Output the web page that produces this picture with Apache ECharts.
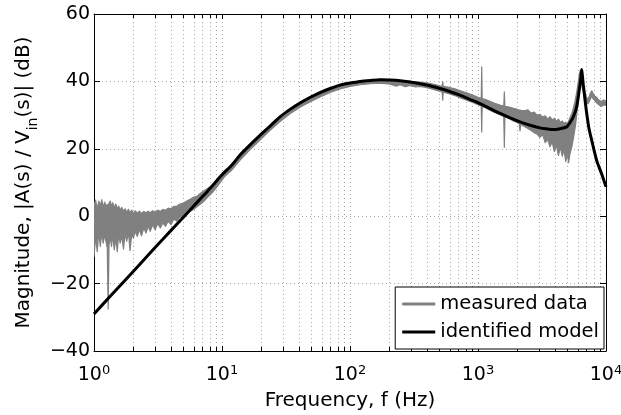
<!DOCTYPE html>
<html><head><meta charset="utf-8">
<script src="https://cdn.jsdelivr.net/npm/echarts@6/dist/echarts.min.js"></script>
<style>html,body{margin:0;padding:0;background:#fff}#c{width:621px;height:415px}</style>
</head><body><div id="c"></div>
<script>
// ---- axis ticks / labels ----
const xTickValues = [1, 10, 100, 1000, 10000];
const xTickExponents = ['0', '1', '2', '3', '4'];
const yTickValues = [-40, -20, 0, 20, 40, 60];
const yTickLabels = ['\u221240', '\u221220', '0', '20', '40', '60'];
const minorMultipliers = [2, 3, 4, 5, 6, 7, 8, 9];

// ---- identified model (Hz, dB) ----
const modelFreq = [1, 1.3, 1.7, 2.2, 3, 4, 5, 6.5, 8, 10,
  12, 13.8, 16.5, 19.8, 24, 28.4, 34, 40.7, 49, 58.3,
  70, 83.5, 100, 120, 145, 172, 205, 246, 295, 352,
  420, 505, 600, 723, 860, 1037, 1230, 1486, 1780, 2129,
  2550, 3050, 3450, 3855, 4300, 4932, 5236, 5556, 5904, 6184,
  6380, 6457, 6549, 6649, 6855, 7067, 7362, 7734, 8459, 9256,
  10000];
const modelDb = [-29, -24.3, -19.5, -14.9, -9.3, -4.2, -0.3, 4.4, 8.1, 12.3,
  15.3, 18.1, 21.1, 24.0, 26.9, 29.5, 31.7, 33.6, 35.3, 36.7,
  37.9, 38.9, 39.5, 40.0, 40.3, 40.5, 40.4, 40.2, 39.8, 39.3,
  38.7, 37.9, 37.0, 35.9, 34.7, 33.4, 32.0, 30.5, 29.2, 28.0,
  27.0, 26.2, 25.9, 25.7, 25.9, 26.5, 27.8, 29.5, 32.5, 37.5,
  41.5, 43.5, 41.5, 39.0, 34.5, 30.5, 26.0, 22.5, 16.5, 12.5,
  8.7];

// ---- measured data: upper / lower envelope of the noisy trace (Hz, dB) ----
const measFreq = [
  1.00,1.03,1.06,1.09,1.12,1.15,1.18,1.21,1.24,1.27,1.29,1.31,1.34,1.37,1.40,1.44,1.48,1.52,1.56,1.60,1.65,1.70,1.75,1.80,1.86,1.91,1.97,
  2.03,2.10,2.18,2.26,2.35,2.45,2.55,2.65,2.75,2.87,3.00,3.15,3.30,3.45,3.62,3.80,4.00,4.20,4.45,4.70,5.00,5.30,5.65,6.00,6.40,6.80,7.30,7.80,8.40,9.00,9.70,10.4,
  12,13.8,16.5,19.8,24,28.4,34,40.7,49,58.3,70,83.5,100,120,145,172,205,230,246,270,295,320,352,390,420,470,505,
  525,530,535,600,660,720,815,900,1000,1060,1069,1078,1150,1250,1350,1486,1590,1606,1622,1750,1900,2000,2100,2129,2160,
  2300,2450,2600,2750,2900,3050,3200,3350,3500,3650,3800,3950,4100,4250,4400,4550,4700,4850,5000,5100,
  5236,5400,5556,5750,5904,6050,6184,6300,6400,6550,6700,6855,7000,7200,7362,7550,7734,7950,8200,8459,8700,9000,9256,9600,10000];
const measHigh = [
  3.5,4.8,2.0,4.5,3.0,4.9,2.5,4.2,3.0,3.5,3.0,3.8,4.5,2.8,4.0,2.5,3.6,2.2,3.0,1.8,2.6,1.5,2.2,1.2,2.0,1.0,1.8,
  0.8,1.6,0.9,1.5,0.8,1.4,1.0,1.5,1.0,1.6,1.2,1.8,1.4,2.0,1.8,2.4,2.2,2.9,3.0,3.6,3.9,4.5,5.0,5.6,6.0,6.8,7.6,8.4,9.2,10.4,11.6,12.9,
  15.5,18.3,21.3,24.2,27.1,29.7,31.9,33.8,35.5,36.9,38.0,39.0,39.6,40.1,40.4,40.6,40.5,40.3,40.3,40.1,40.0,39.9,39.8,39.6,39.4,39.0,38.7,
  38.6,39.9,38.5,38.2,37.8,37.3,36.6,36.0,35.3,35.0,44.3,34.9,34.6,34.0,33.5,33.0,32.7,36.9,32.6,32.4,32.0,31.8,31.5,31.5,31.4,
  31.3,31.6,30.6,30.9,30.0,30.2,29.4,29.8,28.8,29.5,28.6,29.0,28.2,28.8,27.8,28.3,27.6,27.9,27.3,28.2,
  29.3,30.5,32.0,34.4,36.8,39.5,42.0,43.3,42.8,39.5,38.0,36.8,35.6,34.6,35.4,36.5,37.2,36.4,35.6,35.3,34.6,34.2,34.1,34.5,34.2];
const measLow = [
  -12.0,-6.0,-10.5,-4.5,-9.0,-5.0,-8.0,-5.5,-7.5,-9.5,-27.5,-8.5,-6.0,-9.0,-5.5,-10.0,-6.5,-10.5,-5.0,-8.0,-6.0,-9.8,-5.0,-7.5,-4.8,-10.2,-5.5,
  -6.5,-4.5,-6.0,-4.0,-5.8,-3.5,-5.0,-3.0,-4.5,-2.5,-4.0,-2.2,-3.5,-2.0,-3.0,-1.5,-2.5,-0.8,-1.5,-0.2,-0.5,0.8,1.5,2.0,2.9,3.6,4.6,5.8,7.0,8.4,10.0,11.6,
  13.8,16.6,19.7,22.6,25.6,28.1,30.4,32.3,34.0,35.4,36.7,37.8,38.5,39.0,39.3,39.5,39.2,38.6,39.0,38.4,38.8,38.4,38.5,38.2,37.9,37.4,37.0,
  36.9,34.4,36.8,36.3,35.8,35.2,34.4,33.8,33.1,32.7,25.0,32.6,32.1,31.4,30.8,30.1,29.6,20.4,29.5,29.0,28.2,27.9,27.4,25.3,27.2,
  26.6,26.0,25.4,24.8,24.3,23.4,24.2,21.8,22.8,20.6,22.0,19.2,21.0,18.0,20.5,17.8,19.6,16.2,18.8,15.9,
  18.6,20.5,23.0,26.5,30.0,34.0,38.0,40.8,40.0,37.8,36.5,35.2,34.2,33.3,33.8,34.8,35.6,34.8,34.2,33.6,33.2,32.8,32.6,33.0,32.9];

const FONT = 'DejaVu Sans';
const X_MIN = xTickValues[0], X_MAX = xTickValues[xTickValues.length - 1];
const Y_MIN = yTickValues[0], Y_MAX = yTickValues[yTickValues.length - 1];

const minorFreqs = [];
for (let d = 0; d < xTickValues.length - 1; d++) {
  minorMultipliers.forEach(m => minorFreqs.push(xTickValues[d] * m));
}

const modelData = modelFreq.map((f, i) => [f, modelDb[i]]);
const gridDotted = { color: '#a8a8a8', width: 1, type: [1, 3] };

function xLabel(v) {
  const e = Math.round(Math.log10(v));
  const idx = xTickValues.indexOf(Math.pow(10, e));
  return '{b|10}{s|' + (idx >= 0 ? xTickExponents[idx] : e) + '}';
}
function yLabel(v) {
  const idx = yTickValues.indexOf(Math.round(v));
  return idx >= 0 ? yTickLabels[idx] : String(v);
}

const baseX = {
  type: 'log', logBase: 10, min: X_MIN, max: X_MAX,
  axisLine: { show: true, onZero: false, lineStyle: { color: '#000', width: 1 } },
  axisTick: { show: true, inside: true, length: 5, lineStyle: { color: '#000', width: 1 } },
  minorTick: { show: false }, splitLine: { show: false }
};
const baseY = {
  type: 'value', min: Y_MIN, max: Y_MAX, interval: 20,
  axisLine: { show: true, onZero: false, lineStyle: { color: '#000', width: 1 } },
  axisTick: { show: true, inside: true, length: 6, lineStyle: { color: '#000', width: 1 } },
  splitLine: { show: false }
};

const option = {
  animation: false,
  backgroundColor: '#fff',
  textStyle: { fontFamily: FONT },
  grid: { left: 94, right: 15, top: 14, bottom: 64, containLabel: false, outerBoundsMode: 'none' },
  legend: {
    orient: 'vertical', right: 17, top: 287,
    itemGap: 8, itemWidth: 33, itemHeight: 3,
    padding: [7, 5, 7, 7],
    backgroundColor: '#fff', borderColor: '#000', borderWidth: 1, borderRadius: 0,
    selectedMode: false,
    textStyle: { fontFamily: FONT, fontSize: 19.5, color: '#000' },
    data: [
      { name: 'measured data', icon: 'rect', itemStyle: { color: '#808080', borderWidth: 0 } },
      { name: 'identified model', icon: 'rect', itemStyle: { color: '#000', borderWidth: 0 } }
    ]
  },
  xAxis: [
    Object.assign({}, baseX, {
      position: 'bottom',
      splitLine: { show: true, lineStyle: gridDotted },
      axisLabel: {
        show: true, margin: 13, color: '#000', fontFamily: FONT, formatter: xLabel,
        rich: {
          b: { fontFamily: FONT, fontSize: 19, lineHeight: 21, verticalAlign: 'bottom', color: '#000' },
          s: { fontFamily: FONT, fontSize: 13, lineHeight: 13, verticalAlign: 'top', color: '#000' }
        }
      },
      name: 'Frequency, f (Hz)', nameLocation: 'middle', nameGap: 40, nameMoveOverlap: false,
      nameTextStyle: { fontFamily: FONT, fontSize: 20, color: '#000' }
    }),
    Object.assign({}, baseX, { position: 'top', axisLabel: { show: false } })
  ],
  yAxis: [
    Object.assign({}, baseY, {
      position: 'left',
      splitLine: { show: true, lineStyle: gridDotted },
      axisLabel: { show: true, margin: 4, color: '#000', fontFamily: FONT, fontSize: 19, formatter: yLabel },
      name: '{a|Magnitude, |A(s) / V}{sub|in}{a|(s)| (dB)}',
      nameLocation: 'middle', nameRotate: 90, nameGap: 54, nameMoveOverlap: false,
      nameTextStyle: {
        color: '#000',
        rich: {
          a: { fontFamily: FONT, fontSize: 20, lineHeight: 26, verticalAlign: 'top', color: '#000' },
          sub: { fontFamily: FONT, fontSize: 14, lineHeight: 14, verticalAlign: 'bottom', color: '#000' }
        }
      }
    }),
    Object.assign({}, baseY, { position: 'right', axisLabel: { show: false } })
  ],
  series: [
    {
      // minor log grid lines and minor tick marks
      type: 'custom', silent: true, z: 1, clip: true,
      xAxisIndex: 0, yAxisIndex: 0,
      data: minorFreqs.map(f => [f, 0]),
      renderItem: function (params, api) {
        const f = api.value(0);
        const pb = api.coord([f, Y_MIN]);
        const pt = api.coord([f, Y_MAX]);
        const x = Math.round(pb[0]) + 0.5;
        return {
          type: 'group', children: [
            { type: 'line', shape: { x1: x, y1: pb[1], x2: x, y2: pt[1] }, style: { stroke: '#a8a8a8', lineWidth: 1, lineDash: [1, 3] } },
            { type: 'line', shape: { x1: x, y1: pb[1], x2: x, y2: pb[1] - 4 }, style: { stroke: '#000', lineWidth: 1 } },
            { type: 'line', shape: { x1: x, y1: pt[1], x2: x, y2: pt[1] + 4 }, style: { stroke: '#000', lineWidth: 1 } }
          ]
        };
      }
    },
    {
      name: 'measured data',
      type: 'custom', silent: true, z: 2, clip: true,
      xAxisIndex: 0, yAxisIndex: 0,
      data: [[measFreq[0], measHigh[0]]],
      renderItem: function (params, api) {
        const pts = [];
        for (let i = 0; i < measFreq.length; i++) pts.push(api.coord([measFreq[i], measHigh[i]]));
        for (let i = measFreq.length - 1; i >= 0; i--) pts.push(api.coord([measFreq[i], measLow[i]]));
        return {
          type: 'polygon', shape: { points: pts },
          style: { fill: '#808080', stroke: '#808080', lineWidth: 1.2, lineJoin: 'round' }
        };
      }
    },
    {
      name: 'identified model',
      type: 'line', z: 3, silent: true,
      xAxisIndex: 0, yAxisIndex: 0,
      data: modelData,
      showSymbol: false, symbol: 'none',
      smooth: 0.25,
      itemStyle: { color: '#000' },
      lineStyle: { color: '#000', width: 3 }
    }
  ]
};

const chart = echarts.init(document.getElementById('c'), null, { renderer: 'canvas' });
chart.setOption(option);
</script>
</body></html>
